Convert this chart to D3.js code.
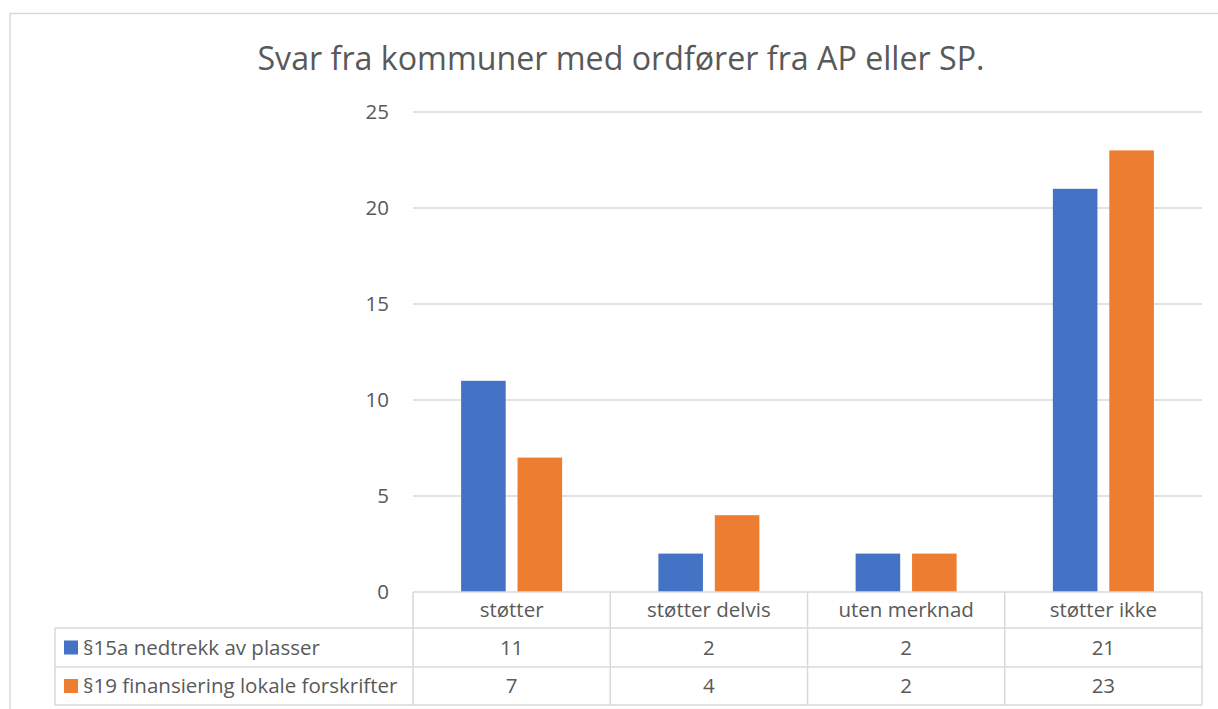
<!DOCTYPE html>
<html>
<head>
<meta charset="utf-8">
<script src="https://cdn.jsdelivr.net/npm/d3@7"></script>
<style>
  body { margin: 0; background: #fff; }
  text { font-family: "Open Sans", "Noto Sans", sans-serif; fill: #595959; }
</style>
</head>
<body>
<svg id="chart" width="1218" height="709"></svg>
<script>
// data
const categories = ['støtter', 'støtter delvis', 'uten merknad', 'støtter ikke'];
const seriesNames = ['§15a nedtrekk av plasser', '§19 finansiering lokale forskrifter'];
const seriesA = [11, 2, 2, 21];
const seriesB = [7, 4, 2, 23];
const yTicks = [0, 5, 10, 15, 20, 25];
const colors = ['#4472C4', '#ED7D31'];

const svg = d3.select('#chart');

// outer chart border (clipped on the right/bottom like the screenshot)
svg.append('rect')
  .attr('x', 10).attr('y', 13.5)
  .attr('width', 1230).attr('height', 720)
  .attr('fill', 'none').attr('stroke', '#d9d9d9').attr('stroke-width', 1.5);

// title
svg.append('text')
  .attr('x', 621).attr('y', 70)
  .attr('text-anchor', 'middle')
  .style('font-size', '32.2px')
  .text('Svar fra kommuner med ordfører fra AP eller SP.');

// plot area
const plotL = 413, plotR = 1202, plotT = 112, plotB = 592;

const y = d3.scaleLinear().domain([0, 25]).range([plotB, plotT]);
const x0 = d3.scaleBand().domain(categories).range([plotL, plotR]);
const x1 = d3.scaleBand().domain([0, 1])
  .range([x0.bandwidth() / 2 - 50.5, x0.bandwidth() / 2 + 50.5])
  .paddingInner(0.21);

// gridlines
svg.append('g')
  .selectAll('line')
  .data(yTicks.filter(d => d > 0))
  .join('line')
    .attr('x1', plotL).attr('x2', plotR)
    .attr('y1', d => y(d)).attr('y2', d => y(d))
    .attr('stroke', '#d9d9d9').attr('stroke-width', 1.3);

// y tick labels
svg.append('g')
  .selectAll('text')
  .data(yTicks)
  .join('text')
    .attr('x', 389)
    .attr('y', d => y(d))
    .attr('dy', '0.35em')
    .attr('text-anchor', 'end')
    .style('font-size', '20.5px')
    .text(d => d);

// bars
const rows = categories.map((c, i) => ({cat: c, vals: [seriesA[i], seriesB[i]]}));
const groups = svg.append('g')
  .selectAll('g')
  .data(rows)
  .join('g')
    .attr('transform', d => `translate(${x0(d.cat)},0)`);

groups.selectAll('rect')
  .data(d => d.vals.map((v, s) => ({s, v})))
  .join('rect')
    .attr('x', d => x1(d.s))
    .attr('width', x1.bandwidth())
    .attr('y', d => y(d.v))
    .attr('height', d => y(0) - y(d.v))
    .attr('fill', d => colors[d.s]);

// data table
const tableLeft = 55;
const rowY = [592, 628, 667, 705];
const grid = '#d9d9d9';
const tbl = svg.append('g').attr('stroke', grid).attr('stroke-width', 1.5);

// horizontal lines
tbl.append('line').attr('x1', plotL).attr('x2', plotR).attr('y1', rowY[0]).attr('y2', rowY[0]);
rowY.slice(1).forEach(yy => {
  tbl.append('line').attr('x1', tableLeft).attr('x2', plotR).attr('y1', yy).attr('y2', yy);
});
// vertical lines
tbl.append('line').attr('x1', tableLeft).attr('x2', tableLeft).attr('y1', rowY[1]).attr('y2', rowY[3]);
categories.forEach(c => {
  tbl.append('line').attr('x1', x0(c)).attr('x2', x0(c)).attr('y1', rowY[0]).attr('y2', rowY[3]);
});
tbl.append('line').attr('x1', plotR).attr('x2', plotR).attr('y1', rowY[0]).attr('y2', rowY[3]);

// category header
svg.append('g')
  .selectAll('text')
  .data(categories)
  .join('text')
    .attr('x', d => x0(d) + x0.bandwidth() / 2)
    .attr('y', (rowY[0] + rowY[1]) / 2)
    .attr('dy', '0.35em')
    .attr('text-anchor', 'middle')
    .style('font-size', '20.5px')
    .text(d => d);

// series rows
[seriesA, seriesB].forEach((vals, s) => {
  const cy = (rowY[s + 1] + rowY[s + 2]) / 2;
  svg.append('rect')
    .attr('x', 64).attr('y', cy - 7)
    .attr('width', 14).attr('height', 14)
    .attr('fill', colors[s]);
  svg.append('text')
    .attr('x', 83).attr('y', cy)
    .attr('dy', '0.35em')
    .style('font-size', '20.5px')
    .text(seriesNames[s]);
  svg.append('g')
    .selectAll('text')
    .data(vals)
    .join('text')
      .attr('x', (d, i) => x0(categories[i]) + x0.bandwidth() / 2)
      .attr('y', cy)
      .attr('dy', '0.35em')
      .attr('text-anchor', 'middle')
      .style('font-size', '20.5px')
      .text(d => d);
});
</script>
</body>
</html>
